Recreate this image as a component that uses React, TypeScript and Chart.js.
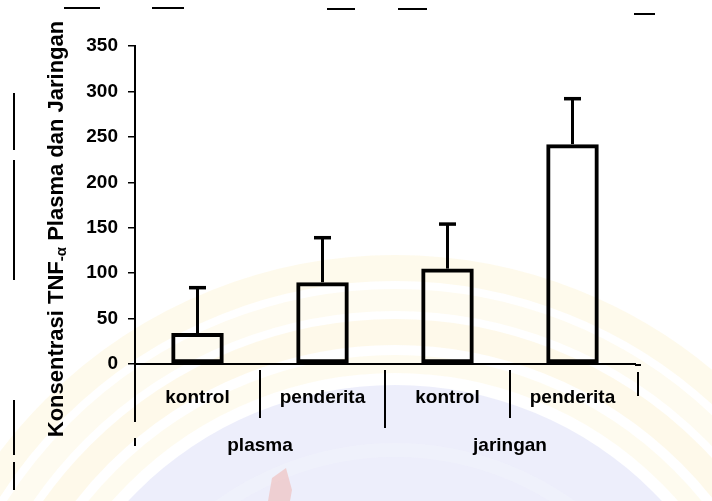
import React, { useEffect, useRef } from "react";
import { Chart, registerables } from "chart.js";

Chart.register(...registerables);

// Mean concentration per group and its standard deviation (upper whisker only)
const categories = ["kontrol", "penderita", "kontrol", "penderita"];
const groups = ["plasma", "jaringan"];
const means = [34, 90, 105, 242];
const sds = [50, 49, 49, 50];
const yTicks = [0, 50, 100, 150, 200, 250, 300, 350];

const FONT = "'Liberation Sans', Arial, sans-serif";

// Faint printed seal behind the figure
const sealPlugin = {
  id: "seal",
  beforeDraw(chart: any) {
    const { ctx, width, height } = chart;
    ctx.save();
    ctx.fillStyle = "#ffffff";
    ctx.fillRect(0, 0, width, height);
    const cx = 395;
    const cy = 750;
    // yellow rings
    const rings = [
      { r: 482, w: 26, c: "rgba(252, 232, 170, 0.22)" },
      { r: 450, w: 22, c: "rgba(252, 236, 180, 0.20)" },
      { r: 418, w: 26, c: "rgba(252, 230, 166, 0.24)" },
      { r: 386, w: 18, c: "rgba(252, 236, 184, 0.22)" },
    ];
    rings.forEach((ring) => {
      ctx.beginPath();
      ctx.arc(cx, cy, ring.r, 0, Math.PI * 2);
      ctx.strokeStyle = ring.c;
      ctx.lineWidth = ring.w;
      ctx.stroke();
    });
    // blue disc
    ctx.beginPath();
    ctx.arc(cx, cy, 365, 0, Math.PI * 2);
    ctx.fillStyle = "rgba(214, 218, 246, 0.45)";
    ctx.fill();
    ctx.beginPath();
    ctx.arc(cx, cy, 300, 0, Math.PI * 2);
    ctx.strokeStyle = "rgba(244, 245, 253, 0.35)";
    ctx.lineWidth = 14;
    ctx.stroke();
    // red emblem tip
    ctx.beginPath();
    ctx.moveTo(268, 501);
    ctx.lineTo(272, 478);
    ctx.lineTo(286, 468);
    ctx.lineTo(292, 490);
    ctx.lineTo(290, 501);
    ctx.closePath();
    ctx.fillStyle = "rgba(240, 160, 150, 0.4)";
    ctx.fill();
    ctx.restore();
  },
};

// Upper SD whiskers with caps
const whiskerPlugin = {
  id: "whiskers",
  afterDatasetsDraw(chart: any) {
    const { ctx } = chart;
    const yScale = chart.scales.y;
    const meta = chart.getDatasetMeta(0);
    ctx.save();
    ctx.strokeStyle = "#000";
    ctx.lineCap = "butt";
    meta.data.forEach((bar: any, i: number) => {
      const yTop = yScale.getPixelForValue(means[i]);
      const yCap = yScale.getPixelForValue(means[i] + sds[i]);
      ctx.lineWidth = 3;
      ctx.beginPath();
      ctx.moveTo(bar.x, yTop);
      ctx.lineTo(bar.x, yCap);
      ctx.stroke();
      ctx.lineWidth = 3.5;
      ctx.beginPath();
      ctx.moveTo(bar.x - 8.5, yCap);
      ctx.lineTo(bar.x + 8.5, yCap);
      ctx.stroke();
    });
    ctx.restore();
  },
};

// Table-style separators under the x axis, the rotated axis title and page edge marks
const framePlugin = {
  id: "frame",
  afterDraw(chart: any) {
    const { ctx, chartArea } = chart;
    const x = chart.scales.x;
    const n = categories.length;
    const bottom = chartArea.bottom;
    ctx.save();
    ctx.strokeStyle = "#000";
    ctx.lineWidth = 2;
    for (let i = 0; i <= n; i++) {
      let bx: number;
      if (i === 0) bx = chartArea.left;
      else if (i === n) bx = chartArea.right + 3;
      else bx = (x.getPixelForValue(i - 1) + x.getPixelForValue(i)) / 2;
      let y0 = bottom + 6;
      let y1 = bottom + 54;
      if (i === 0) {
        y0 = bottom;
        y1 = bottom + 58;
      } else if (i === n) {
        y0 = bottom + 8;
        y1 = bottom + 32;
      } else if (i === 2) {
        y0 = bottom + 6;
        y1 = bottom + 64;
      }
      ctx.beginPath();
      ctx.moveTo(bx, y0);
      ctx.lineTo(bx, y1);
      ctx.stroke();
    }
    // small mark at the group row
    ctx.beginPath();
    ctx.moveTo(chartArea.left, bottom + 74);
    ctx.lineTo(chartArea.left, bottom + 82);
    ctx.stroke();
    // extend baseline slightly past the plot
    ctx.beginPath();
    ctx.moveTo(chartArea.right, bottom + 1);
    ctx.lineTo(chartArea.right + 6, bottom + 1);
    ctx.stroke();

    // vertical axis title
    ctx.translate(57, 229);
    ctx.rotate(-Math.PI / 2);
    ctx.fillStyle = "#000";
    ctx.textBaseline = "middle";
    const partA = "Konsentrasi TNF";
    const partB = "-α";
    const partC = " Plasma dan Jaringan";
    ctx.font = `bold 22px ${FONT}`;
    const wA = ctx.measureText(partA).width;
    const wC = ctx.measureText(partC).width;
    ctx.font = `bold 15px ${FONT}`;
    const wB = ctx.measureText(partB).width;
    const total = wA + wB + wC;
    let pos = -total / 2;
    ctx.textAlign = "left";
    ctx.font = `bold 22px ${FONT}`;
    ctx.fillText(partA, pos, 0);
    pos += wA;
    ctx.font = `bold 15px ${FONT}`;
    ctx.fillText(partB, pos, 5);
    pos += wB;
    ctx.font = `bold 22px ${FONT}`;
    ctx.fillText(partC, pos, 0);
    ctx.setTransform(1, 0, 0, 1, 0, 0);

    // page edge marks
    ctx.lineWidth = 2;
    const dashes = [
      [64, 100, 8],
      [152, 184, 8],
      [327, 355, 9],
      [398, 427, 9],
      [634, 655, 14],
    ];
    dashes.forEach(([a, b, yy]) => {
      ctx.beginPath();
      ctx.moveTo(a, yy);
      ctx.lineTo(b, yy);
      ctx.stroke();
    });
    const edge = [
      [93, 150],
      [160, 280],
      [400, 455],
      [462, 490],
    ];
    edge.forEach(([a, b]) => {
      ctx.beginPath();
      ctx.moveTo(14, a);
      ctx.lineTo(14, b);
      ctx.stroke();
    });
    ctx.restore();
  },
};

export default function App() {
  const canvasRef = useRef<HTMLCanvasElement | null>(null);

  useEffect(() => {
    if (!canvasRef.current) return;
    const chart = new Chart(canvasRef.current, {
      type: "bar",
      data: {
        labels: categories,
        datasets: [
          {
            data: means,
            xAxisID: "x",
            yAxisID: "y",
            backgroundColor: "rgba(255,255,255,0)",
            borderColor: "#000",
            borderWidth: 4,
            borderSkipped: false,
            barPercentage: 0.42,
            categoryPercentage: 1,
          },
        ],
      },
      options: {
        responsive: false,
        animation: false,
        devicePixelRatio: 1,
        layout: { padding: { top: 46, right: 77, left: 0, bottom: 0 } },
        plugins: {
          legend: { display: false },
          tooltip: { enabled: false },
          title: { display: false },
        },
        scales: {
          x: {
            type: "category",
            position: "bottom",
            offset: true,
            grid: { display: false, drawTicks: false },
            border: { display: true, color: "#000", width: 2 },
            ticks: {
              color: "#000",
              padding: 22,
              maxRotation: 0,
              autoSkip: false,
              font: { family: FONT, size: 19, weight: "bold" },
            },
            afterFit: (scale: any) => {
              scale.height = 55;
            },
          },
          x2: {
            type: "category",
            position: "bottom",
            labels: groups,
            offset: true,
            grid: { display: false, drawTicks: false },
            border: { display: false },
            ticks: {
              color: "#000",
              padding: 15,
              maxRotation: 0,
              autoSkip: false,
              font: { family: FONT, size: 19, weight: "bold" },
            },
            afterFit: (scale: any) => {
              scale.height = 82;
            },
          },
          y: {
            type: "linear",
            position: "left",
            min: 0,
            max: 350,
            afterBuildTicks: (scale: any) => {
              scale.ticks = yTicks.map((v) => ({ value: v }));
            },
            grid: {
              drawOnChartArea: false,
              drawTicks: true,
              tickLength: 7,
              color: "#000",
              lineWidth: 1.5,
            },
            border: { display: true, color: "#000", width: 2 },
            ticks: {
              color: "#000",
              padding: 10,
              font: { family: FONT, size: 19, weight: "bold" },
            },
            afterFit: (scale: any) => {
              scale.width = 135;
            },
          },
        },
      },
      plugins: [sealPlugin, whiskerPlugin, framePlugin],
    });
    return () => chart.destroy();
  }, []);

  return (
    <div
      style={{
        position: "fixed",
        left: 0,
        top: 0,
        width: 712,
        height: 501,
        background: "#fff",
      }}
    >
      <canvas ref={canvasRef} width={712} height={501} style={{ display: "block" }} />
    </div>
  );
}
